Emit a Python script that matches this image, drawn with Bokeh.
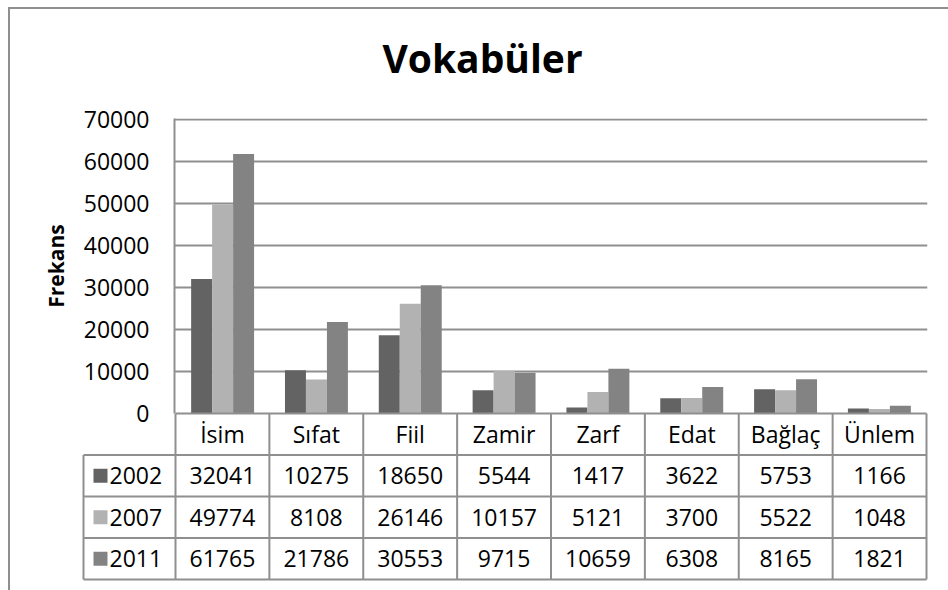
from bokeh.plotting import figure
from bokeh.models import ColumnDataSource, Range1d, FactorRange, FixedTicker
from bokeh.transform import dodge
from bokeh.layouts import column
from bokeh.embed import file_html
from bokeh.resources import INLINE
from bokeh.core.properties import value

# ---------------- data ----------------
title_text = "Vokabüler"
y_title = "Frekans"
categories = ["İsim", "Sıfat", "Fiil", "Zamir", "Zarf", "Edat", "Bağlaç", "Ünlem"]
years = ["2002", "2007", "2011"]
v2002 = [32041, 10275, 18650, 5544, 1417, 3622, 5753, 1166]
v2007 = [49774, 8108, 26146, 10157, 5121, 3700, 5522, 1048]
v2011 = [61765, 21786, 30553, 9715, 10659, 6308, 8165, 1821]
y_ticks = [0, 10000, 20000, 30000, 40000, 50000, 60000, 70000]
colors = ["#636363", "#b2b2b2", "#838383"]

series = [v2002, v2007, v2011]

FONT = "Open Sans"
LINE = "#8f8f8f"
TXT = "23px"

# ---------------- layout (pixels) ----------------
ORG_X, ORG_Y = 10, 9          # content origin inside the bordered box
W = 938
ZERO_Y, TOP_Y = 413, 119      # pixel rows of 0 and of the top tick
A_BOTTOM = 432                # bar figure canvas ends here (room for the "0" label)
B_TOP = 411                   # table figure starts here (overlapping, transparent)
TABLE_BOTTOM = 579
TH = 100                      # height of the title strip
TITLE_CX, TITLE_BASE = 482, 57
ncat = len(categories)
nrow = len(years) + 1

ppu_y = (ZERO_Y - TOP_Y) / y_ticks[-1]

# ---------------- title strip ----------------
pT = figure(width=W, height=TH, output_backend="svg", toolbar_location=None,
            x_range=Range1d(0, W), y_range=Range1d(0, TH),
            x_axis_location=None, y_axis_location=None, min_border=0)
pT.frame_align = False
pT.outline_line_color = None
pT.background_fill_color = None
pT.border_fill_color = None
pT.grid.visible = False
pT.text(x=[TITLE_CX - ORG_X], y=[TH - (TITLE_BASE - ORG_Y)], text=[title_text],
        text_font=value(FONT), text_font_style="bold", text_font_size="39px",
        text_align="center", text_baseline="alphabetic", text_color="#000000")

# ---------------- bar chart ----------------
src = ColumnDataSource(dict(cat=categories, y2002=v2002, y2007=v2007, y2011=v2011))

pA = figure(width=W, height=A_BOTTOM - ORG_Y, output_backend="svg", toolbar_location=None,
            x_range=FactorRange(factors=categories, range_padding=0.0128,
                                range_padding_units="absolute"),
            y_range=Range1d(0, y_ticks[-1] + 1 / ppu_y),
            x_axis_location=None, min_border_left=174 - ORG_X,
            min_border_right=ORG_X + W - 927, min_border_top=TOP_Y - 1 - ORG_Y,
            min_border_bottom=A_BOTTOM - ZERO_Y, margin=(-TH, 0, 0, 0))
pA.frame_align = False
pA.outline_line_color = None
pA.border_fill_color = None
pA.xgrid.visible = False
pA.ygrid.grid_line_color = LINE
pA.ygrid.grid_line_width = 2
pA.ygrid.ticker = FixedTicker(ticks=y_ticks)

ya = pA.yaxis[0]
ya.ticker = FixedTicker(ticks=y_ticks)
ya.major_tick_out = 0
ya.major_tick_in = 0
ya.minor_tick_out = 0
ya.minor_tick_in = 0
ya.major_label_standoff = 25
ya.major_label_text_font = FONT
ya.major_label_text_font_size = TXT
ya.major_label_text_color = "#000000"
ya.axis_line_color = LINE
ya.axis_line_width = 2
ya.axis_label = y_title
ya.axis_label_text_font = FONT
ya.axis_label_text_font_style = "bold"
ya.axis_label_text_font_size = "21px"
ya.axis_label_text_color = "#000000"
ya.axis_label_standoff = 11

bw = 0.2236
for j, yr in enumerate(years):
    pA.vbar(x=dodge("cat", (j - 1) * bw, range=pA.x_range), top="y" + yr, width=bw,
            source=src, fill_color=colors[j], line_color=None)

# ---------------- data table ----------------
row_h = (TABLE_BOTTOM - ZERO_Y) / nrow
ppu_x = 751 / ncat
leg_left = -(175 - 83) / ppu_x
HB = 590 - B_TOP
pB = figure(width=W, height=HB, output_backend="svg", toolbar_location=None,
            x_range=Range1d(-(175 - 81) / ppu_x, ncat + 2 / ppu_x),
            y_range=Range1d(-2 / row_h, nrow + (ZERO_Y - B_TOP) / row_h),
            x_axis_location=None, y_axis_location=None, min_border_left=81 - ORG_X,
            min_border_right=ORG_X + W - 928, min_border_top=0,
            min_border_bottom=590 - (TABLE_BOTTOM + 2),
            margin=(B_TOP - A_BOTTOM, 0, 0, 0))
pB.frame_align = False
pB.outline_line_color = None
pB.background_fill_color = None
pB.border_fill_color = None
pB.grid.visible = False

vx = list(range(ncat + 1))
pB.segment(x0=vx, y0=[0] * len(vx), x1=vx, y1=[nrow] * len(vx), line_color=LINE, line_width=2)
pB.segment(x0=[leg_left], y0=[0], x1=[leg_left], y1=[nrow - 1], line_color=LINE, line_width=2)
hy = list(range(nrow))
pB.segment(x0=[leg_left] * len(hy), y0=hy, x1=[ncat] * len(hy), y1=hy, line_color=LINE, line_width=2)
pB.segment(x0=[0], y0=[nrow], x1=[ncat], y1=[nrow], line_color=LINE, line_width=2)

cx = [i + 0.5 for i in range(ncat)]
pB.text(x=cx, y=[nrow - 0.5] * ncat, text=categories, text_font=value(FONT),
        text_font_size=TXT, text_align="center", text_baseline="middle", text_color="#000000")
for j, yr in enumerate(years):
    ry = nrow - 1.5 - j
    pB.text(x=cx, y=[ry] * ncat, text=[str(v) for v in series[j]], text_font=value(FONT),
            text_font_size=TXT, text_align="center", text_baseline="middle", text_color="#000000")
    pB.rect(x=[leg_left + 17 / ppu_x], y=[ry], width=14, height=14, width_units="screen",
            height_units="screen", fill_color=colors[j], line_color=None)
    pB.text(x=[leg_left + 26 / ppu_x], y=[ry], text=[yr], text_font=value(FONT),
            text_font_size=TXT, text_align="left", text_baseline="middle", text_color="#000000")

layout = column(pT, pA, pB, spacing=0, margin=(7, 0, 0, 8),
                styles={"border-left": "2px solid #8f8f8f", "border-top": "2px solid #8f8f8f"})
open("out.html", "w").write(file_html(layout, INLINE))
